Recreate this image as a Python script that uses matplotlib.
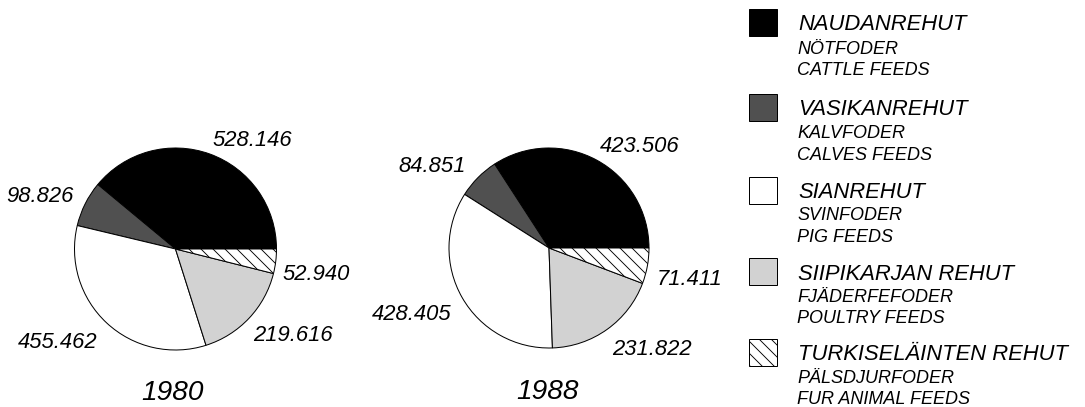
"""
Rehun käyttö 1980 ja 1988 — two pies with a three-language legend.
Drawn in a pixel-sized axes (dpi 72 so 1 pt == 1 px).
"""
import matplotlib
matplotlib.use("Agg")
import matplotlib.pyplot as plt
from matplotlib.patches import Rectangle

plt.rcParams["font.family"] = ["Liberation Sans", "DejaVu Sans"]
plt.rcParams["hatch.linewidth"] = 0.9

# ── data ─────────────────────────────────────────────────────────────────────
years = ["1980", "1988"]
values_1980 = [528.146, 98.826, 455.462, 219.616, 52.940]
values_1988 = [423.506, 84.851, 428.405, 231.822, 71.411]
labels_1980 = ["528.146", "98.826", "455.462", "219.616", "52.940"]
labels_1988 = ["423.506", "84.851", "428.405", "231.822", "71.411"]

legend_fi = ["NAUDANREHUT", "VASIKANREHUT", "SIANREHUT",
             "SIIPIKARJAN REHUT", "TURKISELÄINTEN REHUT"]
legend_sv = ["NÖTFODER", "KALVFODER", "SVINFODER",
             "FJÄDERFEFODER", "PÄLSDJURFODER"]
legend_en = ["CATTLE FEEDS", "CALVES FEEDS", "PIG FEEDS",
             "POULTRY FEEDS", "FUR ANIMAL FEEDS"]

# ── styles / layout (image pixel coords, y measured from the top) ───────────
COLORS  = ["black", "#505050", "white", "#d2d2d2", "white"]
HATCHES = ["", "", "", "", "\\\\"]
W, H = 1085, 407

PIE_CENTERS = [(175.5, 249), (549, 248)]
PIE_RADII   = [101, 100]
YEAR_POS    = [(173, 400), (548, 399)]          # baseline
LABEL_POS   = [
    [(252, 146), (40, 202), (58, 348), (293, 341), (316, 280)],
    [(640, 152), (432, 172), (412, 320), (652, 355), (690, 285)],
]

LEG_X_PATCH, LEG_X_TEXT = 749, 797
LEG_ROWS = [22.5, 107, 190, 271.5, 352.5]       # header cap centre
SUB_GAPS = [(25, 46), (25, 46), (24, 45), (24.5, 45), (24, 45)]

fig = plt.figure(figsize=(W / 72, H / 72), dpi=72)
ax = fig.add_axes([0, 0, 1, 1])

for k, vals in enumerate([values_1980, values_1988]):
    cx, cy = PIE_CENTERS[k]
    ax.pie(vals, colors=COLORS, hatch=HATCHES, startangle=0, counterclock=True,
           center=(cx, H - cy), radius=PIE_RADII[k],
           wedgeprops=dict(edgecolor="black", linewidth=1.0))
    labs = [labels_1980, labels_1988][k]
    for lab, (lx, ly) in zip(labs, LABEL_POS[k]):
        ax.text(lx, H - ly, lab, ha="center", va="baseline",
                fontsize=22, style="italic")
    yx, yy = YEAR_POS[k]
    ax.text(yx, H - yy, years[k], ha="center", va="baseline",
            fontsize=28, style="italic")

# ── legend ───────────────────────────────────────────────────────────────────
for i, yc in enumerate(LEG_ROWS):
    g2, g3 = SUB_GAPS[i]
    ax.add_patch(Rectangle((LEG_X_PATCH, H - yc - 13.5), 28, 27,
                           facecolor=COLORS[i], edgecolor="black",
                           hatch=HATCHES[i], linewidth=1.0))
    ax.text(LEG_X_TEXT + 1, H - yc - 8, legend_fi[i], ha="left", va="baseline",
            fontsize=22, style="italic")
    ax.text(LEG_X_TEXT, H - yc - g2 - 6.5, legend_sv[i], ha="left",
            va="baseline", fontsize=18, style="italic")
    ax.text(LEG_X_TEXT, H - yc - g3 - 6.5, legend_en[i], ha="left",
            va="baseline", fontsize=18, style="italic")

ax.set_xlim(0, W)
ax.set_ylim(0, H)
ax.set_aspect("equal")
ax.axis("off")

fig.savefig("out.png", dpi=72, facecolor="white")
